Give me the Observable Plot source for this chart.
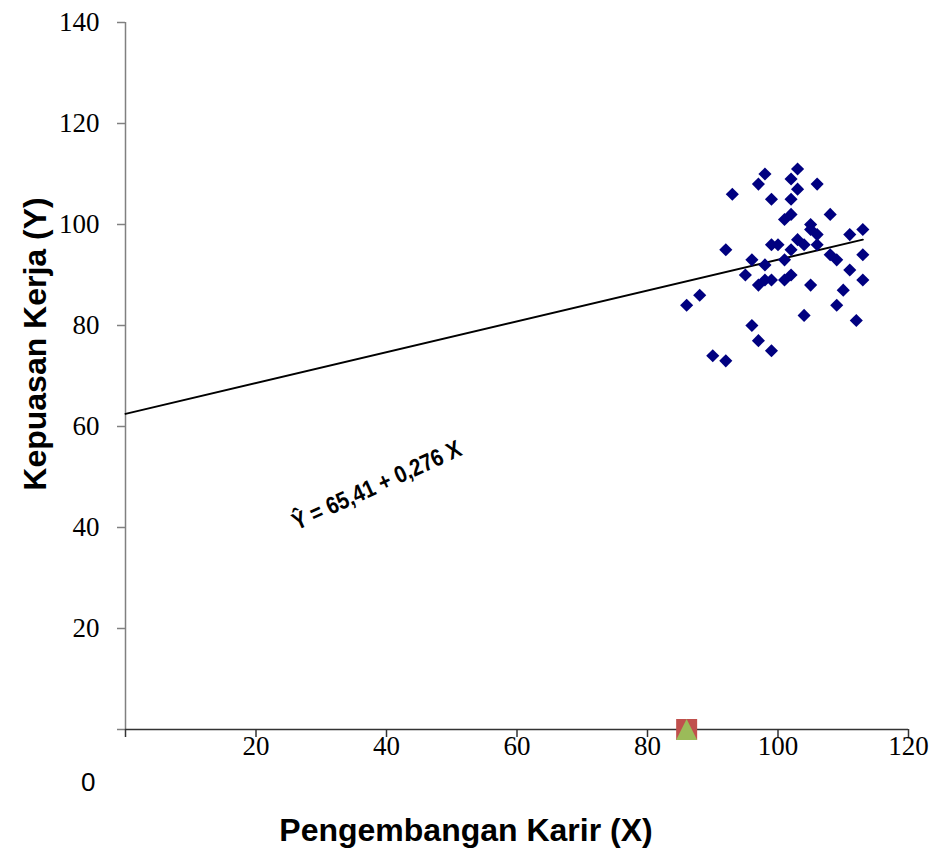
<!DOCTYPE html>
<html>
<head>
<meta charset="utf-8">
<script src="https://cdn.jsdelivr.net/npm/d3@7"></script>
<script src="https://cdn.jsdelivr.net/npm/@observablehq/plot@0.6"></script>
<style>
  html, body { margin: 0; padding: 0; background: #fff; }
  #chart svg { display: block; }
</style>
</head>
<body>
<div id="chart"></div>
<script>
// ---- data ----
const xVals = [86, 88, 90, 92, 92, 93, 95, 96, 96, 97, 97, 97, 98, 98, 98, 99, 99, 99, 99, 100,
               101, 101, 101, 102, 102, 102, 102, 102, 103, 103, 103, 104, 104, 105, 105, 105, 106, 106, 106,
               108, 108, 109, 109, 110, 111, 111, 112, 113, 113, 113];
const yVals = [84, 86, 74, 73, 95, 106, 90, 93, 80, 77, 88, 108, 110, 92, 89, 75, 89, 96, 105, 96,
               101, 93, 89, 109, 105, 102, 95, 90, 111, 107, 97, 96, 82, 100, 88, 99, 108, 98, 96,
               102, 94, 93, 84, 87, 98, 91, 81, 99, 94, 89];
const lineX = [0, 113];
const lineY = [62.5, 97];
const markerX = [86];
const markerY = [0];
const xTicks = [0, 20, 40, 60, 80, 100, 120];
const yTicks = [0, 20, 40, 60, 80, 100, 120, 140];
const equationText = "Ŷ = 65,41 + 0,276 X";
const xTitle = "Pengembangan Karir (X)";
const yTitle = "Kepuasan Kerja (Y)";

const points = xVals.map((x, i) => ({x, y: yVals[i]}));
const trend = lineX.map((x, i) => ({x, y: lineY[i]}));
const marker = markerX.map((x, i) => ({x, y: markerY[i]}));
const equation = [{x: 38.5, y: 48.3, t: equationText}];

// custom symbols for the small marker at the axis
const squareSym = {draw(ctx, size) { const h = Math.sqrt(size / Math.PI); ctx.moveTo(-h, -h); ctx.lineTo(h, -h); ctx.lineTo(h, h); ctx.lineTo(-h, h); ctx.closePath(); }};
const triSym = {draw(ctx, size) { const h = Math.sqrt(size / Math.PI); ctx.moveTo(0, -h); ctx.lineTo(h, h); ctx.lineTo(-h, h); ctx.closePath(); }};

const serif = "'Liberation Serif', 'Times New Roman', serif";
const sans = "'Liberation Sans', Arial, sans-serif";

const chart = Plot.plot({
  width: 939,
  height: 854,
  marginLeft: 125,
  marginRight: 31,
  marginTop: 22,
  marginBottom: 125,
  style: {background: "#fff", overflow: "visible"},
  x: {domain: [0, 120]},
  y: {domain: [0, 140]},
  marks: [
    // y axis line (gray)
    Plot.ruleX([0], {y1: 0, y2: 140, stroke: "#808080", strokeWidth: 1.5}),
    Plot.axisY({ticks: yTicks, tickSize: 8, tickPadding: 18, stroke: "#808080", strokeWidth: 1.5,
                tickFormat: d => d === 0 ? "" : String(d), fontSize: 27, fontFamily: serif, fill: "#000", label: null}),
    // the lone "0" label below-left of the origin
    Plot.axisY({ticks: [0], tickSize: 0, tickPadding: 30, dy: 53, fontSize: 26, fontFamily: sans, fill: "#000", label: null}),
    // x axis line
    Plot.ruleY([0], {stroke: "#333", strokeWidth: 1.5}),
    Plot.axisX({ticks: xTicks, tickSize: 8, tickPadding: -2, stroke: "#333", strokeWidth: 1.5,
                tickFormat: d => d === 0 ? "" : String(d), fontSize: 27, fontFamily: serif, fill: "#000", label: null}),
    // regression line
    Plot.line(trend, {x: "x", y: "y", stroke: "#000", strokeWidth: 2}),
    // scatter points
    Plot.dot(points, {x: "x", y: "y", symbol: "diamond2", r: 5.9, fill: "#000080", stroke: "none"}),
    // marker at the axis
    Plot.dot(marker, {x: "x", y: "y", symbol: squareSym, r: 10.5, fill: "#C0504D", stroke: "none"}),
    Plot.dot(marker, {x: "x", y: "y", symbol: triSym, r: 10.5, fill: "#9BBB59", stroke: "none"}),
    // equation label
    Plot.text(equation, {x: "x", y: "y", text: "t", rotate: -24.5, fontSize: 24, fontWeight: "bold",
                         fontFamily: "'Liberation Sans Narrow', 'Arial Narrow', " + sans, fill: "#000",
                         className: "eqn"}),
    // axis titles
    Plot.text([xTitle], {frameAnchor: "bottom", textAnchor: "middle", lineAnchor: "middle", dx: -51, dy: 101,
                         fontSize: 32, fontWeight: "bold", fontFamily: sans, fill: "#000"}),
    Plot.text([yTitle], {frameAnchor: "left", textAnchor: "middle", lineAnchor: "middle", rotate: -90, dx: -90, dy: -32,
                         fontSize: 32, fontWeight: "bold", fontFamily: sans, fill: "#000"})
  ]
});

d3.select(chart).selectAll(".eqn text").attr("textLength", 183).attr("lengthAdjust", "spacingAndGlyphs");
document.getElementById("chart").appendChild(chart);
</script>
</body>
</html>
